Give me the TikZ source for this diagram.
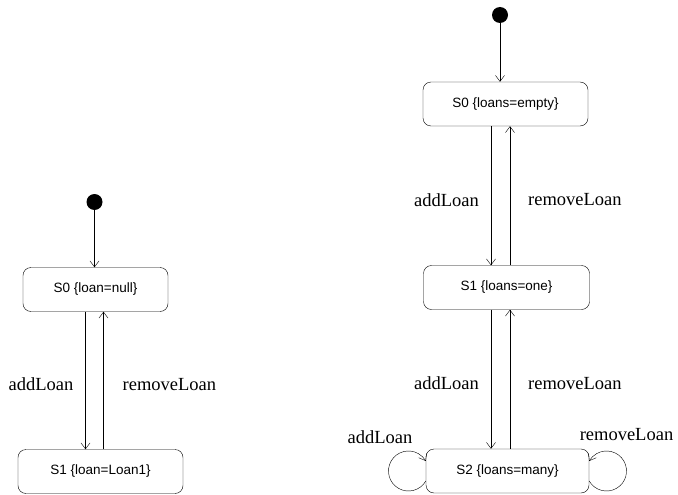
\documentclass[tikz,border=0pt]{standalone}
\usepackage{fontspec}
\setmainfont{Liberation Serif}
\setsansfont{Liberation Sans}
\usetikzlibrary{arrows.meta}
\tikzset{
  statebox/.style={draw, rounded corners=8pt, minimum height=44pt, font=\sffamily\fontsize{13.5}{15}\selectfont},
  initdot/.style={circle, fill, inner sep=0pt, minimum size=16pt},
  trans/.style={-{Straight Barb[length=6pt,width=9pt]}},
  evlabel/.style={inner sep=0pt, font=\fontsize{18.5}{20}\selectfont},
}
\begin{document}
\begin{tikzpicture}[x=1pt,y=1pt]
\useasboundingbox (0,0) rectangle (678,-495);
% left machine
\node [initdot] (initL) at (94.5,-202) {};
\node [statebox, minimum width=145pt] (s0L) at (95.5,-289.5) {S0 \{loan=null\}};
\node [statebox, minimum width=165pt] (s1L) at (100.5,-471.5) {S1 \{loan=Loan1\}};
\coordinate (addL) at ([xshift=-10pt]s0L.south);
\coordinate (remL) at ([xshift=8pt]s0L.south);
\draw [trans] (initL) -- (initL |- s0L.north);
\draw [trans] (addL) -- node[pos=0.53, evlabel, left=12pt]{addLoan} (addL |- s1L.north);
\draw [trans] (remL |- s1L.north) -- node[pos=0.47, evlabel, right=19pt]{removeLoan} (remL);
% right machine
\node [initdot] (initR) at (500,-15) {};
\node [statebox, minimum width=165pt] (s0R) at (505.5,-104) {S0 \{loans=empty\}};
\node [statebox, minimum width=166pt] (s1R) at (506.5,-287.5) {S1 \{loans=one\}};
\node [statebox, minimum width=163pt] (s2R) at (507.5,-471) {S2 \{loans=many\}};
\coordinate (addR) at ([xshift=-14.5pt]s0R.south);
\coordinate (remR) at ([xshift=4.5pt]s0R.south);
\draw [trans] (initR) -- (initR |- s0R.north);
\draw [trans] (addR) -- node[pos=0.53, evlabel, left=12pt]{addLoan} (addR |- s1R.north);
\draw [trans] (remR |- s1R.north) -- node[pos=0.47, evlabel, right=18pt]{removeLoan} (remR);
\draw [trans] (addR |- s1R.south) -- node[pos=0.53, evlabel, left=12pt]{addLoan} (addR |- s2R.north);
\draw [trans] (remR |- s2R.north) -- node[pos=0.47, evlabel, right=18pt]{removeLoan} (remR |- s1R.south);
% self loops
\draw [trans] ([yshift=-10pt]s2R.west) arc[start angle=-30, end angle=-330, radius=20pt];
\draw [trans] ([yshift=-10pt]s2R.east) arc[start angle=210, end angle=510, radius=20pt];
\node [evlabel] (addS2) at (380,-437) {addLoan};
\node [evlabel] (remS2) at (626.5,-435) {removeLoan};
\end{tikzpicture}
\end{document}
